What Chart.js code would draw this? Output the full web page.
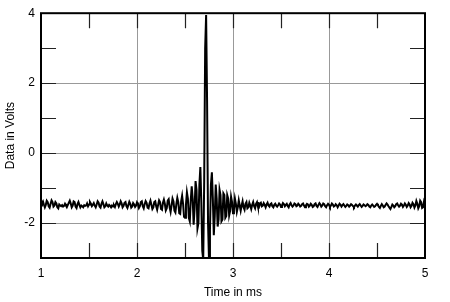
<!DOCTYPE html>
<html>
<head>
<meta charset="utf-8">
<script src="https://cdn.jsdelivr.net/npm/chart.js@4.4.1/dist/chart.umd.min.js"></script>
<style>
    html, body { margin: 0; padding: 0; background: #fff; }
    #wrap { width: 450px; height: 302px; }
</style>
</head>
<body>
<div id="wrap"><canvas id="chart"></canvas></div>
<script>
// Sampled trace, one value every 0.01 ms from 1.00 to 5.00 ms
const tStart = 1.0;
const tStep = 0.01;
const volts = [
    -1.50, -1.42, -1.38, -1.47, -1.55, -1.48, -1.36, -1.40, -1.52, -1.56,
    -1.45, -1.35, -1.40, -1.53, -1.50, -1.40, -1.44, -1.55, -1.58, -1.47,
    -1.50, -1.52, -1.49, -1.53, -1.51, -1.45, -1.50, -1.54, -1.48, -1.42,
    -1.36, -1.44, -1.55, -1.50, -1.38, -1.40, -1.53, -1.57, -1.46, -1.40,
    -1.48, -1.55, -1.50, -1.52, -1.55, -1.49, -1.51, -1.50, -1.44, -1.52,
    -1.47, -1.40, -1.45, -1.52, -1.48, -1.43, -1.50, -1.55, -1.47, -1.38,
    -1.42, -1.53, -1.56, -1.45, -1.38, -1.46, -1.55, -1.52, -1.44, -1.50,
    -1.53, -1.48, -1.51, -1.55, -1.50, -1.53, -1.49, -1.54, -1.46, -1.40,
    -1.45, -1.53, -1.47, -1.38, -1.44, -1.55, -1.51, -1.42, -1.40, -1.52,
    -1.57, -1.48, -1.39, -1.45, -1.56, -1.53, -1.43, -1.47, -1.54, -1.50,
    -1.41, -1.46, -1.57, -1.52, -1.40, -1.38, -1.52, -1.58, -1.46, -1.37,
    -1.42, -1.56, -1.58, -1.44, -1.36, -1.48, -1.60, -1.55, -1.40, -1.38,
    -1.52, -1.62, -1.48, -1.35, -1.40, -1.60, -1.62, -1.42, -1.33, -1.45,
    -1.64, -1.58, -1.36, -1.32, -1.55, -1.68, -1.50, -1.30, -1.38, -1.65,
    -1.70, -1.45, -1.28, -1.40, -1.72, -1.74, -1.38, -1.22, -1.45, -1.82,
    -1.85, -1.48, -1.12, -1.30, -1.85, -1.95, -1.35, -0.95, -1.30, -2.05,
    -1.60, -0.80, -1.05, -2.15, -2.00, -0.90, -0.40, -1.40, -2.80, -3.05,
    -0.80, 3.00, 3.95, 1.50, -2.00, -3.05, -2.20, -0.90, -0.55, -1.30,
    -2.35, -1.80, -0.90, -1.30, -2.10, -1.90, -1.05, -1.20, -1.95, -1.90,
    -1.15, -1.20, -1.85, -1.80, -1.20, -1.30, -1.78, -1.65, -1.25, -1.40,
    -1.72, -1.60, -1.30, -1.45, -1.68, -1.55, -1.35, -1.50, -1.65, -1.50,
    -1.38, -1.55, -1.62, -1.45, -1.40, -1.58, -1.55, -1.42, -1.50, -1.60,
    -1.48, -1.40, -1.52, -1.58, -1.45, -1.40, -1.53, -1.55, -1.44, -1.42,
    -1.52, -1.50, -1.43, -1.48, -1.55, -1.47, -1.42, -1.50, -1.53, -1.46,
    -1.44, -1.52, -1.55, -1.48, -1.45, -1.50, -1.53, -1.49, -1.44, -1.47,
    -1.54, -1.50, -1.43, -1.46, -1.52, -1.48, -1.45, -1.51, -1.55, -1.47,
    -1.43, -1.49, -1.53, -1.50, -1.44, -1.46, -1.52, -1.50, -1.45, -1.48,
    -1.53, -1.51, -1.46, -1.44, -1.50, -1.55, -1.49, -1.45, -1.47, -1.53,
    -1.50, -1.45, -1.48, -1.54, -1.52, -1.46, -1.44, -1.51, -1.54, -1.48,
    -1.43, -1.47, -1.53, -1.50, -1.44, -1.46, -1.52, -1.55, -1.49, -1.45,
    -1.48, -1.54, -1.50, -1.44, -1.47, -1.53, -1.51, -1.46, -1.49, -1.55,
    -1.50, -1.45, -1.48, -1.53, -1.49, -1.46, -1.50, -1.54, -1.51, -1.47,
    -1.49, -1.53, -1.50, -1.46, -1.48, -1.52, -1.55, -1.50, -1.47, -1.50,
    -1.53, -1.49, -1.46, -1.50, -1.54, -1.51, -1.47, -1.49, -1.52, -1.50,
    -1.46, -1.48, -1.53, -1.55, -1.50, -1.47, -1.50, -1.54, -1.52, -1.48,
    -1.45, -1.49, -1.54, -1.57, -1.51, -1.46, -1.50, -1.55, -1.53, -1.48,
    -1.44, -1.47, -1.52, -1.56, -1.60, -1.54, -1.47, -1.50, -1.55, -1.52,
    -1.46, -1.44, -1.49, -1.53, -1.50, -1.45, -1.48, -1.54, -1.50, -1.44,
    -1.48, -1.54, -1.50, -1.43, -1.47, -1.55, -1.51, -1.42, -1.46, -1.56,
    -1.50, -1.37, -1.45, -1.58, -1.52, -1.36, -1.40, -1.57, -1.55, -1.38,
    -1.45
];

const xTickLabels = [1, 2, 3, 4, 5];
const yTickLabels = [-2, 0, 2, 4];

const points = volts.map((v, i) => ({ x: +(tStart + i * tStep).toFixed(2), y: v }));

const FONT = 'Liberation Sans, Arial, sans-serif';

// short inward tick marks on all four sides plus the frame
const frame = {
    id: 'frame',
    beforeDatasetsDraw(chart) {
        const { ctx, chartArea: a, scales } = chart;
        ctx.save();
        ctx.strokeStyle = '#222';
        ctx.lineWidth = 1.2;
        ctx.beginPath();
        for (let v = 1.5; v < 5; v += 0.5) {
            const x = Math.round(scales.x.getPixelForValue(v)) + 0.5;
            ctx.moveTo(x, a.top); ctx.lineTo(x, a.top + 15);
            ctx.moveTo(x, a.bottom); ctx.lineTo(x, a.bottom - 15);
        }
        for (let v = -2; v < 4; v += 1) {
            const y = Math.round(scales.y.getPixelForValue(v)) + 0.5;
            ctx.moveTo(a.left, y); ctx.lineTo(a.left + 15, y);
            ctx.moveTo(a.right, y); ctx.lineTo(a.right - 15, y);
        }
        ctx.stroke();
        ctx.restore();
    },
    afterDatasetsDraw(chart) {
        const { ctx, chartArea: a } = chart;
        ctx.save();
        ctx.strokeStyle = '#000';
        ctx.lineWidth = 2;
        ctx.strokeRect(a.left, a.top, a.right - a.left, a.bottom - a.top);
        ctx.restore();
    }
};

new Chart(document.getElementById('chart'), {
    type: 'line',
    data: {
        datasets: [{
            data: points,
            borderColor: '#000',
            borderWidth: 2,
            pointRadius: 0,
            tension: 0,
            fill: false
        }]
    },
    options: {
        responsive: true,
        maintainAspectRatio: false,
        animation: false,
        layout: { padding: { left: 0, right: 25, top: 10, bottom: 0 } },
        plugins: { legend: { display: false }, tooltip: { enabled: false } },
        scales: {
            x: {
                type: 'linear',
                min: 1,
                max: 5,
                afterFit: s => { s.height = 44; },
                border: { display: false },
                grid: {
                    drawTicks: false,
                    color: c => xTickLabels.includes(c.tick.value) && c.tick.value > 1 && c.tick.value < 5 ? '#999' : 'rgba(0,0,0,0)',
                    lineWidth: 1
                },
                ticks: {
                    stepSize: 0.5,
                    padding: 8,
                    color: '#000',
                    font: { family: FONT, size: 12 },
                    callback: v => xTickLabels.includes(v) ? String(v) : ''
                },
                title: {
                    display: true,
                    text: 'Time in ms',
                    color: '#000',
                    font: { family: FONT, size: 12 },
                    padding: { top: 0, bottom: 2 }
                }
            },
            y: {
                type: 'linear',
                min: -3,
                max: 4,
                afterFit: s => { s.width = 41; },
                border: { display: false },
                grid: {
                    drawTicks: false,
                    color: c => yTickLabels.includes(c.tick.value) && c.tick.value < 4 ? '#999' : 'rgba(0,0,0,0)',
                    lineWidth: 1
                },
                ticks: {
                    stepSize: 1,
                    padding: 6,
                    color: '#000',
                    font: { family: FONT, size: 12 },
                    callback: v => yTickLabels.includes(v) ? String(v) : ''
                },
                title: {
                    display: true,
                    text: 'Data in Volts',
                    color: '#000',
                    font: { family: FONT, size: 12 },
                    padding: { top: 3, bottom: 0 }
                }
            }
        }
    },
    plugins: [frame]
});
</script>
</body>
</html>
